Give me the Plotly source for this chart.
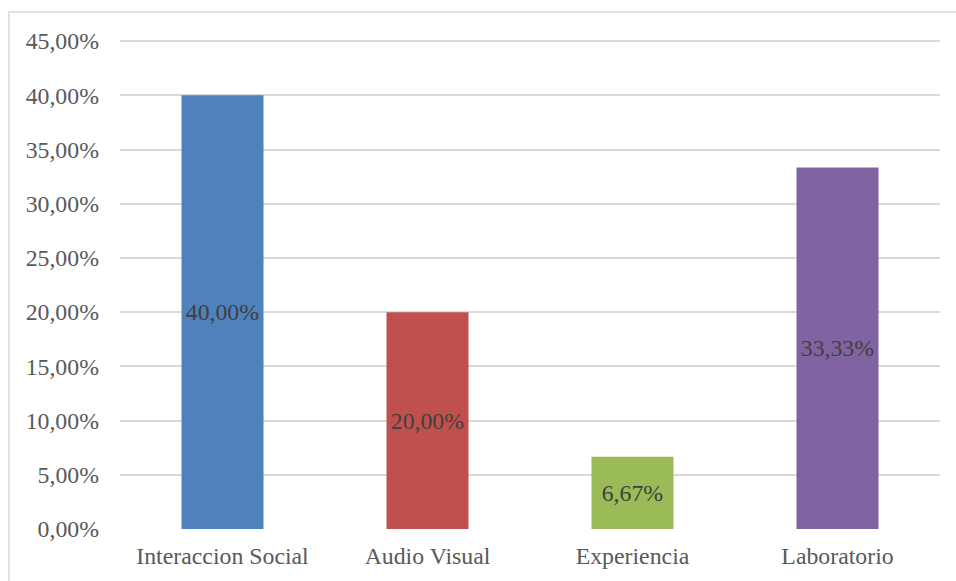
import plotly.graph_objects as go

categories = ["Interaccion Social", "Audio Visual", "Experiencia", "Laboratorio"]
values = [40.00, 20.00, 6.67, 33.33]
bar_colors = ["#4F81BD", "#C0504D", "#9BBB59", "#8064A2"]
y_ticks = [0, 5, 10, 15, 20, 25, 30, 35, 40, 45]


def pct(v):
    return f"{v:.2f}".replace(".", ",") + "%"


W, H = 956, 581
L, R, T, B = 120, 16, 40, 52
pw, ph = W - L - R, H - T - B
FONT = "Liberation Serif"
FS = 23.8

fig = go.Figure(
    go.Bar(
        x=categories,
        y=values,
        marker=dict(color=bar_colors, line=dict(width=0)),
        text=[pct(v) for v in values],
        textposition="inside",
        insidetextanchor="middle",
        textangle=0,
        textfont=dict(family=FONT, size=FS, color="#404040"),
        hoverinfo="skip",
        cliponaxis=False,
    )
)


def px_to_paper_x(px):
    return (px - L) / pw


def px_to_paper_y(py):
    return (H - B - py) / ph


# outer chart frame (only its top and left edges fall inside the page)
fig.add_shape(
    type="rect",
    xref="paper", yref="paper",
    x0=px_to_paper_x(9), x1=px_to_paper_x(W + 10),
    y0=px_to_paper_y(H + 10), y1=px_to_paper_y(12),
    line=dict(color="#D9D9D9", width=1.5),
    fillcolor="rgba(0,0,0,0)",
    layer="below",
)

fig.update_layout(
    width=W, height=H,
    margin=dict(l=L, r=R, t=T, b=B, pad=0),
    paper_bgcolor="white",
    plot_bgcolor="white",
    bargap=0.6,
    showlegend=False,
    font=dict(family=FONT, size=FS, color="#595959"),
    xaxis=dict(
        showgrid=False,
        showline=False,
        zeroline=False,
        ticks="",
        tickfont=dict(family=FONT, size=FS, color="#595959"),
        ticklabelstandoff=10,
    ),
    yaxis=dict(
        range=[0, 45.1],
        tickvals=y_ticks,
        ticktext=[pct(v) for v in y_ticks],
        showgrid=True,
        gridcolor="#D9D9D9",
        gridwidth=1.5,
        zeroline=False,
        showline=False,
        ticks="",
        ticklabelstandoff=20,
        tickfont=dict(family=FONT, size=FS, color="#595959"),
    ),
)
fig.write_html("out.html")
